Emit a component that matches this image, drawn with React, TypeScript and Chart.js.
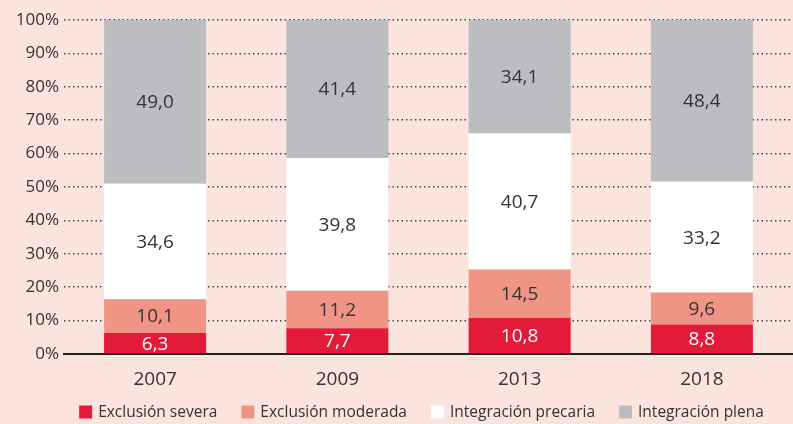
import React, { useEffect, useRef } from "react";
import { Chart, registerables } from "chart.js";

Chart.register(...registerables);

const categories = ["2007", "2009", "2013", "2018"];
const severa = [6.3, 7.7, 10.8, 8.8];
const moderada = [10.1, 11.2, 14.5, 9.6];
const precaria = [34.6, 39.8, 40.7, 33.2];
const plena = [49.0, 41.4, 34.1, 48.4];
const seriesNames = ["Exclusión severa", "Exclusión moderada", "Integración precaria", "Integración plena"];
const yTicks = [0, 10, 20, 30, 40, 50, 60, 70, 80, 90, 100];

const FONT = "'Open Sans', 'DejaVu Sans', sans-serif";

const labelPlugin = {
  id: "barLabels",
  afterDatasetsDraw(chart: any) {
    const ctx = chart.ctx;
    ctx.save();
    ctx.font = `19px ${FONT}`;
    ctx.textAlign = "center";
    ctx.textBaseline = "middle";
    chart.data.datasets.forEach((ds: any, di: number) => {
      const meta = chart.getDatasetMeta(di);
      meta.data.forEach((bar: any, i: number) => {
        const v = ds.data[i];
        const y = (bar.y + bar.base) / 2;
        ctx.fillStyle = di === 0 ? "#ffffff" : "#333333";
        ctx.fillText(v.toFixed(1).replace(".", ","), bar.x, y + 1);
      });
    });
    ctx.restore();
  },
};

const legendPlugin = {
  id: "customLegend",
  afterDraw(chart: any) {
    const ctx = chart.ctx;
    const box = 13;
    const gapText = 6;
    const gapItem = 24;
    ctx.save();
    ctx.font = `15.5px ${FONT}`;
    ctx.textBaseline = "middle";
    ctx.textAlign = "left";
    const items = chart.data.datasets.map((ds: any) => ({
      label: ds.label,
      color: ds.backgroundColor,
      w: ctx.measureText(ds.label).width,
    }));
    const total =
      items.reduce((s: number, it: any) => s + box + gapText + it.w, 0) + gapItem * (items.length - 1);
    const center = (chart.chartArea.left + chart.chartArea.right) / 2 - 7;
    let x = center - total / 2;
    const y = chart.height - 12;
    items.forEach((it: any) => {
      ctx.fillStyle = it.color;
      ctx.fillRect(x, y - box / 2, box, box);
      x += box + gapText;
      ctx.fillStyle = "#333";
      ctx.fillText(it.label, x, y + 1);
      x += it.w + gapItem;
    });
    ctx.restore();
  },
};

export default function App() {
  const ref = useRef<HTMLCanvasElement>(null);
  useEffect(() => {
    document.body.style.margin = "0";
    const chart = new Chart(ref.current!, {
      type: "bar",
      data: {
        labels: categories,
        datasets: [
          { label: seriesNames[0], data: severa, backgroundColor: "#e31a38" },
          { label: seriesNames[1], data: moderada, backgroundColor: "#f09485" },
          { label: seriesNames[2], data: precaria, backgroundColor: "#ffffff" },
          { label: seriesNames[3], data: plena, backgroundColor: "#bcbdc0" },
        ],
      },
      options: {
        animation: false,
        responsive: false,
        maintainAspectRatio: false,
        layout: { padding: { top: 20, right: 0, left: 0, bottom: 34 } },
        datasets: { bar: { barPercentage: 0.56, categoryPercentage: 1 } },
        plugins: {
          tooltip: { enabled: false },
          legend: { display: false },
        },
        scales: {
          x: {
            stacked: true,
            grid: { display: false },
            border: { display: true, color: "#222", width: 2 },
            afterFit(scale: any) {
              scale.height = 36;
            },
            ticks: { color: "#333", font: { family: FONT, size: 19 }, padding: 6 },
          },
          y: {
            stacked: true,
            min: 0,
            max: 100,
            afterBuildTicks(scale: any) {
              scale.ticks = yTicks.map((v) => ({ value: v }));
            },
            afterFit(scale: any) {
              scale.width = 64;
            },
            grid: { color: "#444", lineWidth: 1.5, drawTicks: false },
            border: { display: false, dash: [1.5, 3] },
            ticks: {
              color: "#333",
              padding: 5,
              font: { family: FONT, size: 17 },
              callback: (v: any) => v + "%",
            },
          },
        },
      },
      plugins: [
        labelPlugin,
        legendPlugin,
        {
          id: "bg",
          beforeDraw(c: any) {
            const ctx = c.ctx;
            ctx.save();
            ctx.fillStyle = "#fce4de";
            ctx.fillRect(0, 0, c.width, c.height);
            ctx.restore();
          },
        },
      ],
    });
    return () => chart.destroy();
  }, []);
  return (
    <div style={{ width: 793, height: 424 }}>
      <canvas ref={ref} width={793} height={424} style={{ display: "block" }} />
    </div>
  );
}
